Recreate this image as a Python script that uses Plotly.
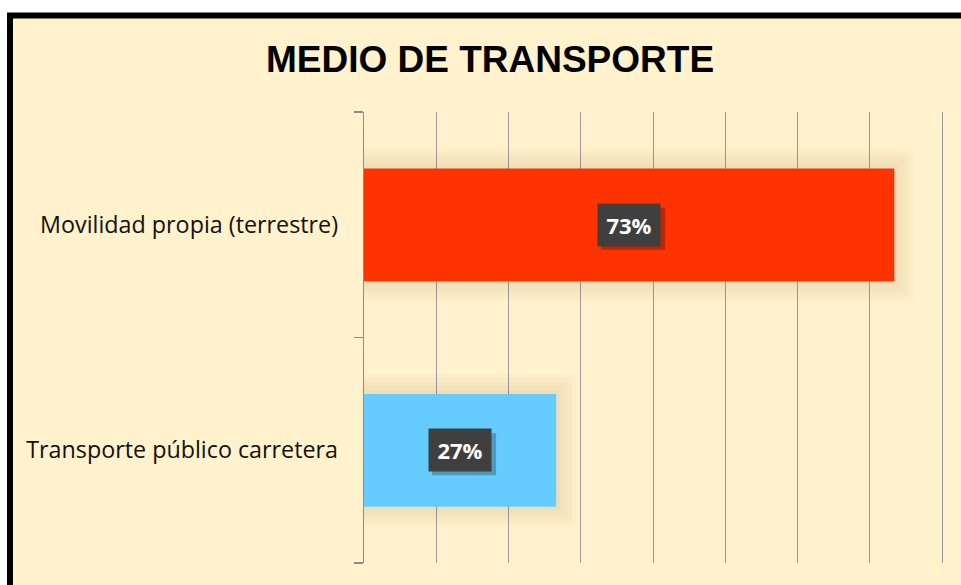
import plotly.graph_objects as go

# Data
categories = ["Movilidad propia (terrestre)", "Transporte público carretera"]
shares = [0.734, 0.266]
bar_colors = ["#FF3300", "#66CCFF"]
title_text = "MEDIO DE TRANSPORTE"

W, H = 961, 585
L, T, B, R = 364, 112, 22, 0
px_per_unit = 722.5
xmax = (W - L - R) / px_per_unit

fig = go.Figure()

# soft shadow layers behind the bars
for lw in (40, 32, 24, 16, 8):
    fig.add_trace(go.Bar(
        x=shares, y=categories, orientation="h", width=0.5,
        marker=dict(color="rgba(0,0,0,0)",
                    line=dict(color="rgba(120,90,30,0.022)", width=lw)),
        hoverinfo="skip", showlegend=False))

fig.add_trace(go.Bar(
    x=shares, y=categories, orientation="h", width=0.5,
    marker=dict(color=bar_colors, line=dict(width=0)),
    showlegend=False))

# data labels (dark boxes with shadow)
for cat, v in zip(categories, shares):
    label = f"{round(v * 100)}%"
    fig.add_shape(type="rect", xref="x", yref="y", layer="above",
                  xsizemode="pixel", ysizemode="pixel",
                  xanchor=v / 2, yanchor=cat,
                  x0=-28, x1=36, y0=-25, y1=17,
                  fillcolor="rgba(0,0,0,0.25)", line=dict(width=0))
    fig.add_annotation(x=v / 2, y=cat, xref="x", yref="y", text=f"<b>{label}</b>",
                       showarrow=False,
                       font=dict(family="Open Sans", size=22, color="white"),
                       bgcolor="#3F3F3F", width=48, height=28, borderpad=7)

# chart frame (cream background with thick black border)
def px_to_paper_x(px):
    return (px - L) / (W - L - R)

def px_to_paper_y(py):
    return (H - B - py) / (H - T - B)

fig.add_shape(type="rect", xref="paper", yref="paper", layer="below",
              x0=px_to_paper_x(10), x1=px_to_paper_x(990),
              y0=px_to_paper_y(620), y1=px_to_paper_y(15.5),
              fillcolor="#FFF2CC", line=dict(color="black", width=6))

fig.update_layout(
    width=W, height=H,
    margin=dict(l=L, r=R, t=T, b=B, pad=0),
    paper_bgcolor="white",
    plot_bgcolor="rgba(0,0,0,0)",
    barmode="overlay",
    title=dict(text=f"<b>{title_text}</b>", x=490 / W, xanchor="center",
               xref="container",
               y=1 - 59 / H, yanchor="middle", yref="container",
               font=dict(family="Liberation Sans, Arial", size=37, color="black")),
    xaxis=dict(range=[0, xmax], dtick=0.1, tick0=0, showgrid=True,
               gridcolor="#9A9A9A", gridwidth=1, showticklabels=False,
               zeroline=False, showline=False, ticks="", fixedrange=True),
    yaxis=dict(type="category", categoryorder="array",
               categoryarray=categories[::-1],
               showline=True, linecolor="#8C8C8C", linewidth=1.3,
               ticks="outside", tickson="boundaries", ticklen=9,
               tickcolor="#8C8C8C", tickwidth=1.3,
               showgrid=False, zeroline=False, fixedrange=True,
               ticklabelstandoff=20,
               tickfont=dict(family="Open Sans", size=23.3, color="#111111")),
)

fig.write_html(
    "out.html",
    config={"displayModeBar": False, "staticPlot": True},
    post_script="document.body.style.margin='0';document.body.style.overflow='hidden';",
)
